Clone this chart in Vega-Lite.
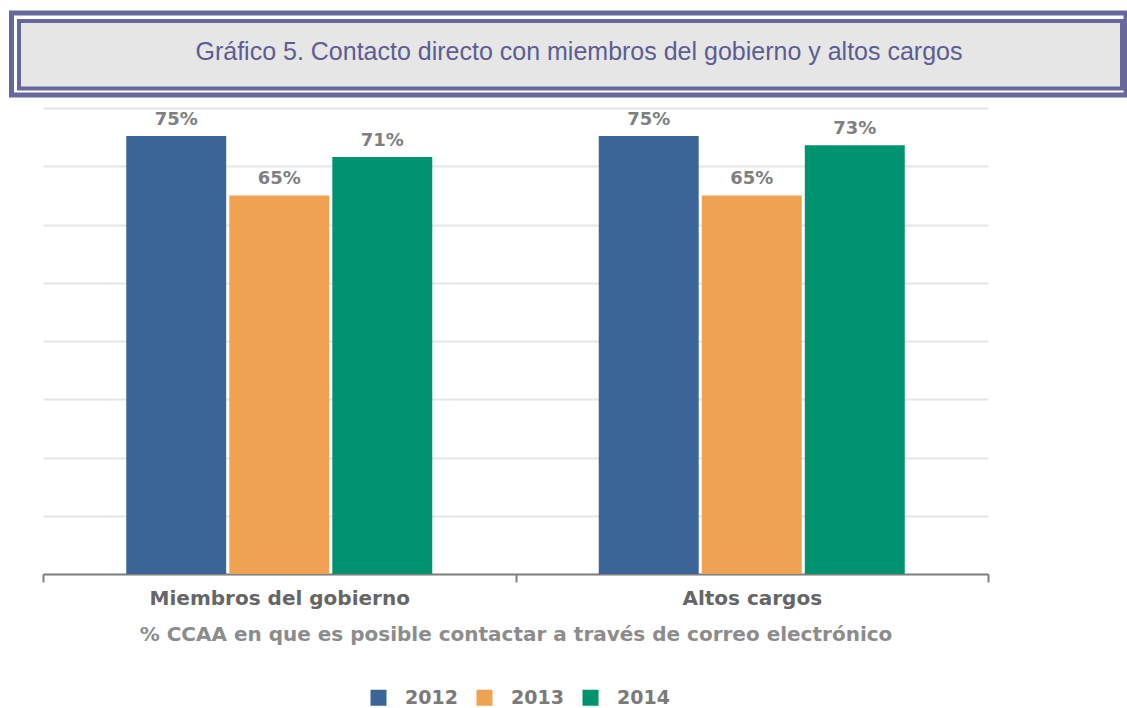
{
  "$schema": "https://vega.github.io/schema/vega-lite/v6.json",
  "background": "white",
  "padding": {"left": 8, "top": 10, "right": 0, "bottom": 0},
  "autosize": {"type": "pad"},
  "spacing": 10,
  "config": {"view": {"stroke": null}, "font": "DejaVu Sans"},
  "datasets": {
    "title": [{"t": "Gráfico 5. Contacto directo con miembros del gobierno y altos cargos"}],
    "bars": [
      {"cat": "Miembros del gobierno", "year": "2012", "value": 75.2, "label": "75%"},
      {"cat": "Miembros del gobierno", "year": "2013", "value": 65.0, "label": "65%"},
      {"cat": "Miembros del gobierno", "year": "2014", "value": 71.6, "label": "71%"},
      {"cat": "Altos cargos", "year": "2012", "value": 75.2, "label": "75%"},
      {"cat": "Altos cargos", "year": "2013", "value": 65.0, "label": "65%"},
      {"cat": "Altos cargos", "year": "2014", "value": 73.6, "label": "73%"}
    ]
  },
  "vconcat": [
    {
      "data": {"name": "title"},
      "width": 1083,
      "height": 82,
      "layer": [
        {
          "mark": {"type": "rect", "fill": "white", "stroke": "#68679b", "strokeWidth": 5},
          "encoding": {
            "x": {"datum": -0.02909, "type": "quantitative", "scale": {"domain": [0, 1]}, "axis": null},
            "x2": {"datum": 1},
            "y": {"datum": 0, "type": "quantitative", "scale": {"domain": [0, 1], "reverse": true}, "axis": null},
            "y2": {"datum": 1}
          }
        },
        {
          "mark": {"type": "rect", "fill": "#e6e6e6", "stroke": "#68679b", "strokeWidth": 4},
          "encoding": {
            "x": {"datum": -0.02216, "type": "quantitative"},
            "x2": {"datum": 0.99631},
            "y": {"datum": 0.0976, "type": "quantitative"},
            "y2": {"datum": 0.921}
          }
        },
        {
          "mark": {"type": "text", "font": "Liberation Sans", "fontSize": 25, "color": "#5d5c93", "baseline": "middle", "align": "center"},
          "encoding": {
            "text": {"field": "t"},
            "x": {"datum": 0.4949, "type": "quantitative"},
            "y": {"datum": 0.48, "type": "quantitative"}
          }
        }
      ]
    },
    {
      "data": {"name": "bars"},
      "width": 945,
      "height": 466,
      "resolve": {"legend": {"color": "independent"}},
      "encoding": {
        "x": {
          "field": "cat", "type": "nominal", "sort": null,
          "title": "% CCAA en que es posible contactar a través de correo electrónico",
          "scale": {"paddingInner": 0, "paddingOuter": 0},
          "axis": {
            "labelAngle": 0, "tickBand": "extent", "grid": false, "labelLimit": 0,
            "domainColor": "#808080", "domainWidth": 2,
            "tickColor": "#808080", "tickWidth": 2, "tickSize": 8,
            "labelFont": "DejaVu Sans", "labelFontWeight": "bold", "labelFontSize": 20, "labelColor": "#666666", "labelPadding": 6,
            "titleFont": "DejaVu Sans", "titleFontWeight": "bold", "titleFontSize": 20, "titleColor": "#8c8c8c", "titlePadding": 16
          }
        },
        "xOffset": {"field": "year", "type": "nominal", "scale": {"paddingInner": 0.03, "paddingOuter": 0.808}},
        "y": {
          "field": "value", "type": "quantitative",
          "scale": {"domain": [0, 80]},
          "axis": {"labels": false, "ticks": false, "domain": false, "title": null, "values": [0, 10, 20, 30, 40, 50, 60, 70, 80], "grid": true, "gridColor": "#e6e6e6", "gridWidth": 2, "minExtent": 34, "maxExtent": 34}
        }
      },
      "layer": [
        {
          "mark": {"type": "bar"},
          "encoding": {
            "color": {
              "field": "year", "type": "nominal",
              "scale": {"range": ["#3b6597", "#efa252", "#00936f"]},
              "legend": {
                "title": null, "orient": "none", "legendX": 326, "legendY": 580, "direction": "horizontal",
                "symbolType": "square", "symbolSize": 256, "symbolStrokeWidth": 0,
                "labelFont": "DejaVu Sans", "labelFontWeight": "bold", "labelFontSize": 19, "labelColor": "#7a7a7a",
                "labelOffset": 17, "columnPadding": 17
              }
            }
          }
        },
        {
          "mark": {"type": "text", "baseline": "bottom", "dy": -7, "font": "DejaVu Sans", "fontWeight": "bold", "fontSize": 18, "color": "#7f7f7f"},
          "encoding": {"text": {"field": "label"}}
        }
      ]
    }
  ]
}
